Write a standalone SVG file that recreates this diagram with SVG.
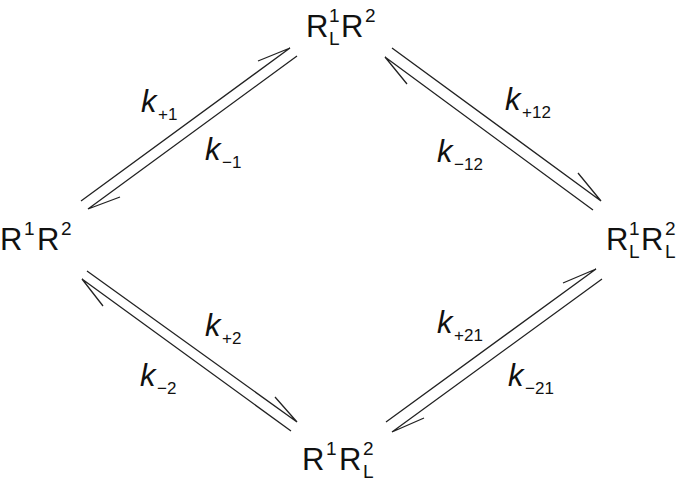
<svg xmlns="http://www.w3.org/2000/svg" width="685" height="484" viewBox="0 0 685 484">
<style>
.n{font-family:"Liberation Sans",Arial,sans-serif;font-size:31px;fill:#111}
.s{font-family:"Liberation Sans",Arial,sans-serif;font-size:19px;fill:#111}
.k{font-family:"Liberation Sans",Arial,sans-serif;font-size:31px;font-style:italic;fill:#111}
.ks{font-family:"Liberation Sans",Arial,sans-serif;font-size:17px;fill:#111}
.l{stroke:#222;stroke-width:1.3;fill:none}
</style>
<rect width="685" height="484" fill="#fff"/>
<g id="top"><text class="n" x="306" y="37">R</text><text class="s" x="329" y="22">1</text><text class="s" x="329" y="45">L</text><text class="n" x="341" y="37">R</text><text class="s" x="365" y="22">2</text></g>
<g id="left"><text class="n" x="0" y="250">R</text><text class="s" x="24" y="235">1</text><text class="n" x="37" y="250">R</text><text class="s" x="61" y="235">2</text></g>
<g id="right"><text class="n" x="606" y="250">R</text><text class="s" x="629" y="235">1</text><text class="s" x="629" y="258">L</text><text class="n" x="641" y="250">R</text><text class="s" x="665" y="235">2</text><text class="s" x="665" y="258">L</text></g>
<g id="bottom"><text class="n" x="302" y="470">R</text><text class="s" x="326" y="455">1</text><text class="n" x="339" y="470">R</text><text class="s" x="363" y="455">2</text><text class="s" x="363" y="478">L</text></g>
<g id="connectors">
<path class="l" d="M81,201 L290,48 L258,61"/>
<path class="l" d="M297,56 L88,209 L120,197"/>
<path class="l" d="M392,48 L601,201 L578,173"/>
<path class="l" d="M593,210 L385,57 L407,84"/>
<path class="l" d="M87,271 L297,422 L275,397"/>
<path class="l" d="M291,431 L82,279 L103,306"/>
<path class="l" d="M386,422 L596,269 L563,283"/>
<path class="l" d="M602,279 L392,432 L424,418"/>
</g>
<g id="labels">
<text class="k" x="141" y="112">k</text><text class="ks" x="158" y="120">+1</text>
<text class="k" x="205" y="160">k</text><text class="ks" x="222" y="168">−1</text>
<text class="k" x="505" y="110">k</text><text class="ks" x="522" y="118">+12</text>
<text class="k" x="437" y="162">k</text><text class="ks" x="454" y="170">−12</text>
<text class="k" x="205" y="336">k</text><text class="ks" x="222" y="344">+2</text>
<text class="k" x="140" y="386">k</text><text class="ks" x="157" y="394">−2</text>
<text class="k" x="437" y="333">k</text><text class="ks" x="454" y="341">+21</text>
<text class="k" x="508" y="386">k</text><text class="ks" x="525" y="394">−21</text>
</g>
</svg>
